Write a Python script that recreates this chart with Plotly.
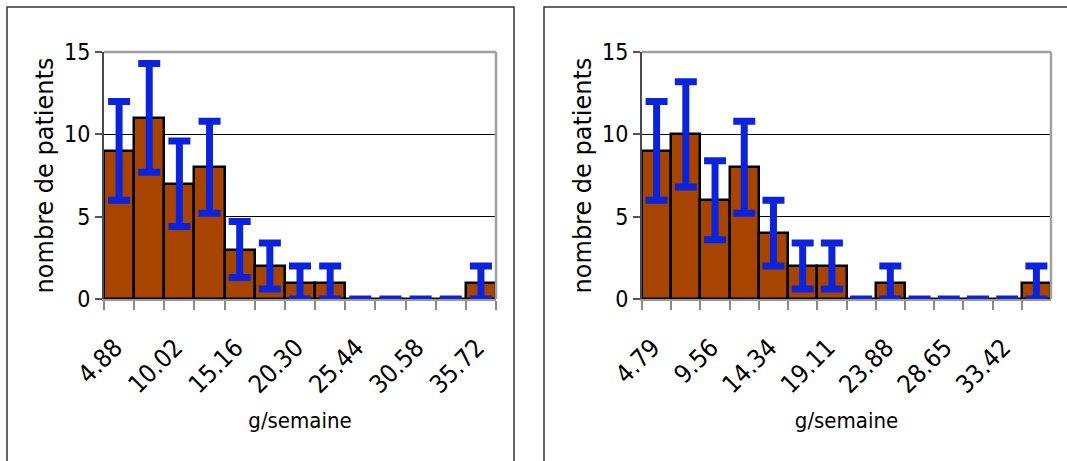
import plotly.graph_objects as go

# ---- data ----
left_bins = ["4.88", "7.45", "10.02", "12.59", "15.16", "17.73", "20.30",
             "22.87", "25.44", "28.01", "30.58", "33.15", "35.72"]
left_counts = [9, 11, 7, 8, 3, 2, 1, 1, 0, 0, 0, 0, 1]
left_err = [3.0, 3.3, 2.6, 2.8, 1.7, 1.4, 1.0, 1.0, 0, 0, 0, 0, 1.0]
left_labels = ["4.88", "", "10.02", "", "15.16", "", "20.30", "",
               "25.44", "", "30.58", "", "35.72"]

right_bins = ["4.79", "7.18", "9.56", "11.95", "14.34", "16.72", "19.11",
              "21.50", "23.88", "26.27", "28.65", "31.04", "33.42", "35.81"]
right_counts = [9, 10, 6, 8, 4, 2, 2, 0, 1, 0, 0, 0, 0, 1]
right_err = [3.0, 3.2, 2.4, 2.8, 2.0, 1.4, 1.4, 0, 1.0, 0, 0, 0, 0, 1.0]
right_labels = ["4.79", "", "9.56", "", "14.34", "", "19.11", "",
                "23.88", "", "28.65", "", "33.42", ""]

x_title = "g/semaine"
y_title = "nombre de patients"

# ---- style ----
BAR = "#A64400"
ERR = "#0B24DB"
FONT_C = "DejaVu Sans Condensed, DejaVu Sans, sans-serif"
FONT = "DejaVu Sans, sans-serif"
W, H = 1067, 461

fig = go.Figure()
for bins, counts, err, xa, ya in [(left_bins, left_counts, left_err, "x", "y"),
                                  (right_bins, right_counts, right_err, "x2", "y2")]:
    fig.add_trace(go.Bar(
        x=bins, y=counts, xaxis=xa, yaxis=ya,
        marker=dict(color=BAR, line=dict(color="black", width=2.5)),
        error_y=dict(type="data", array=err, color=ERR, thickness=7, width=11, visible=True),
        showlegend=False,
    ))

y_dom = [1 - 299 / H, 1 - 52 / H]


def xaxis(domain, bins, labels, anchor):
    return dict(
        type="category", domain=domain, anchor=anchor, automargin=False,
        categoryorder="array", categoryarray=bins,
        tickmode="array", tickvals=bins, ticktext=labels,
        tickson="boundaries", ticks="outside", ticklen=9, tickwidth=1.5, tickcolor="#888",
        tickangle=-45, tickfont=dict(size=25, color="black", family=FONT_C),
        ticklabelstandoff=22, ticklabelshift=-4,
        showline=True, linecolor="#999", linewidth=2, mirror=False,
        showgrid=False, zeroline=False,
        title=dict(text=x_title, font=dict(size=22, color="black", family=FONT_C), standoff=14),
    )


def yaxis(anchor):
    return dict(
        domain=y_dom, anchor=anchor, range=[0, 15], tick0=0, dtick=5, automargin=False,
        ticks="outside", ticklen=7, tickwidth=1.5, tickcolor="#555",
        tickfont=dict(size=23, color="black", family=FONT_C),
        showline=True, linecolor="#4a4a4a", linewidth=2, mirror=False,
        showgrid=True, gridcolor="black", gridwidth=1, zeroline=False,
        title=dict(text=y_title, font=dict(size=24, color="black", family=FONT), standoff=4),
    )


border_shapes = []
for xr, yr in [("x domain", "y domain"), ("x2 domain", "y2 domain")]:
    border_shapes.append(dict(type="line", xref=xr, yref=yr, x0=0, x1=1, y0=1, y1=1,
                              line=dict(color="#a0a0a0", width=2.5), layer="above"))
    border_shapes.append(dict(type="line", xref=xr, yref=yr, x0=1, x1=1, y0=0, y1=1,
                              line=dict(color="#a0a0a0", width=2.5), layer="above"))

fig.update_layout(
    width=W, height=H, margin=dict(l=0, r=0, t=0, b=0, autoexpand=False),
    paper_bgcolor="white", plot_bgcolor="white", bargap=0,
    xaxis=xaxis([104 / W, 496 / W], left_bins, left_labels, "y"),
    yaxis=yaxis("x"),
    xaxis2=xaxis([642 / W, 1051 / W], right_bins, right_labels, "y2"),
    yaxis2=yaxis("x2"),
    shapes=[
        dict(type="rect", xref="paper", yref="paper", x0=7 / W, x1=514 / W,
             y0=-0.1, y1=1 - 7 / H, line=dict(color="#333", width=1.5), layer="below"),
        dict(type="rect", xref="paper", yref="paper", x0=544 / W, x1=1.1,
             y0=-0.1, y1=1 - 7 / H, line=dict(color="#333", width=1.5), layer="below"),
    ] + border_shapes,
)

fig.write_html("out.html")
